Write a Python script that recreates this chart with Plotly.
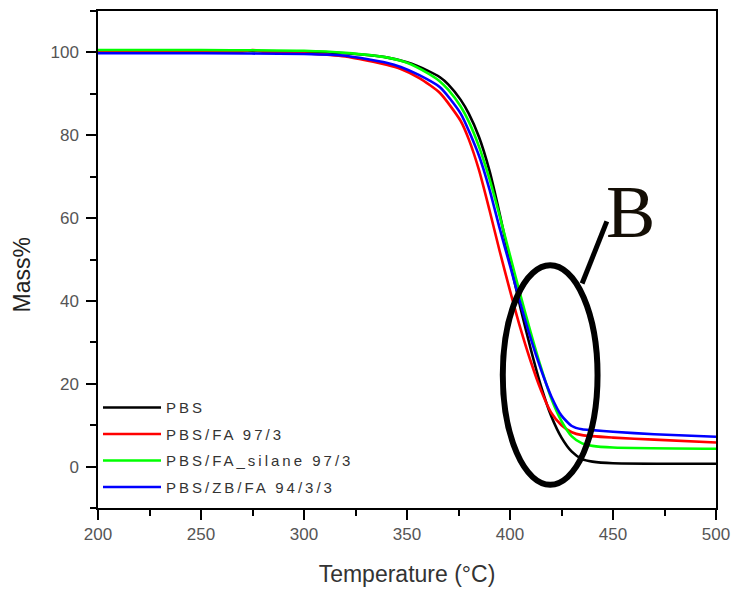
import plotly.graph_objects as go

# Temperature grids (°C) and mass (%) per series
T_pbs = [200, 250, 300, 320, 340, 350, 360, 366, 370, 376, 380, 385, 390, 395, 400, 405, 410, 415, 420, 425, 430, 435, 440, 450, 500]
M_pbs = [100.4, 100.4, 100.2, 99.8, 98.8, 97.6, 95.6, 94.0, 92.3, 88.6, 85.2, 79.5, 71.5, 61.0, 49.5, 38.5, 28.5, 19.5, 12.2, 7.0, 3.6, 1.8, 1.2, 0.8, 0.7]

T_fa = [200, 250, 270, 275, 280, 300, 320, 340, 347, 356, 366, 376, 380, 385, 390, 395, 400, 405, 410, 415, 420, 425, 430, 435, 450, 470, 500]
M_fa = [100.2, 100.2, 100.2, 100.6, 100.2, 99.8, 99.0, 97.0, 96.0, 93.8, 90.2, 83.5, 79.0, 71.5, 62.0, 52.0, 42.5, 33.5, 25.5, 18.5, 13.0, 10.0, 8.3, 7.6, 7.0, 6.5, 5.8]

T_sil = [200, 250, 300, 320, 340, 350, 360, 366, 370, 376, 380, 385, 390, 395, 400, 405, 410, 415, 420, 425, 430, 435, 440, 450, 500]
M_sil = [100.6, 100.6, 100.4, 99.9, 98.8, 97.5, 95.0, 93.0, 91.0, 87.0, 83.3, 77.2, 69.5, 60.5, 51.0, 41.5, 32.5, 24.0, 16.5, 11.0, 7.3, 5.6, 5.0, 4.6, 4.3]

T_zb = [200, 250, 300, 320, 340, 347, 356, 366, 376, 385, 390, 395, 400, 405, 410, 415, 420, 425, 430, 435, 440, 450, 470, 500]
M_zb = [99.8, 99.8, 99.6, 99.2, 97.5, 96.5, 94.5, 91.6, 85.3, 75.0, 67.0, 57.5, 48.5, 39.5, 31.0, 23.5, 17.0, 12.3, 9.8, 9.0, 8.8, 8.4, 7.8, 7.2]

names = ["PBS", "PBS/FA 97/3", "PBS/FA_silane 97/3", "PBS/ZB/FA 94/3/3"]
colors = ["#000000", "#ff0000", "#00ff00", "#0000ff"]
series = [(T_pbs, M_pbs), (T_fa, M_fa), (T_sil, M_sil), (T_zb, M_zb)]

x_ticks = [200, 250, 300, 350, 400, 450, 500]
y_ticks = [0, 20, 40, 60, 80, 100]

SANS = "Liberation Sans, Arial, sans-serif"

fig = go.Figure()
for i, ((t, m), n, c) in enumerate(zip(series, names, colors)):
    fig.add_trace(go.Scatter(x=t, y=m, mode="lines",
                             name=f'<span style="letter-spacing:3px">{n}</span>',
                             line=dict(color=c, width=2.6, shape="spline", smoothing=0.6),
                             legendgroup=f"g{i}"))

axis_common = dict(showline=True, linecolor="black", linewidth=1.5, mirror=True,
                   ticks="outside", ticklen=10, tickwidth=1.5, tickcolor="black",
                   showgrid=False, zeroline=False, automargin=False,
                   tickfont=dict(family=SANS, size=17, color="#555555"))

fig.update_xaxes(range=[200, 500], tickvals=x_ticks, ticktext=[str(v) for v in x_ticks],
                 minor=dict(dtick=25, ticks="outside", ticklen=6, tickwidth=1.5, tickcolor="black"),
                 title=dict(text="Temperature (°C)", standoff=23,
                            font=dict(family=SANS, size=23, color="#333333")),
                 **axis_common)
fig.update_yaxes(range=[-10, 110], tickvals=y_ticks, ticktext=[str(v) for v in y_ticks],
                 ticklabelstandoff=4,
                 minor=dict(dtick=10, ticks="outside", ticklen=6, tickwidth=1.5, tickcolor="black"),
                 **axis_common)

# Y-axis title placed as rotated text (it sits a little below the axis middle)
fig.add_annotation(text="Mass%", xref="paper", yref="paper", x=-0.123, y=0.47,
                   textangle=-90, showarrow=False, xanchor="center", yanchor="middle",
                   font=dict(family=SANS, size=23, color="#222222"))

# Ellipse and leader line with the "B" label
fig.add_shape(type="circle", xref="x", yref="y",
              x0=396.5, x1=442.5, y0=-4.4, y1=48.6,
              line=dict(color="black", width=6))
fig.add_shape(type="line", xref="x", yref="y",
              x0=435, y0=44.2, x1=447, y1=59.2,
              line=dict(color="black", width=5))
fig.add_annotation(text="B", xref="x", yref="y", x=458.5, y=61.5,
                   showarrow=False, xanchor="center", yanchor="middle",
                   font=dict(family="Liberation Serif, Times New Roman, serif", size=74, color="#140e05"))

fig.update_layout(
    width=733, height=589,
    margin=dict(l=98, r=17, t=11, b=81),
    paper_bgcolor="white", plot_bgcolor="white",
    showlegend=True,
    legend=dict(x=0.0, y=0.235, xanchor="left", yanchor="top",
                bgcolor="rgba(0,0,0,0)", borderwidth=0, tracegroupgap=4, itemwidth=58,
                font=dict(family=SANS, size=15, color="#333333")),
)

fig.write_html("out.html")
